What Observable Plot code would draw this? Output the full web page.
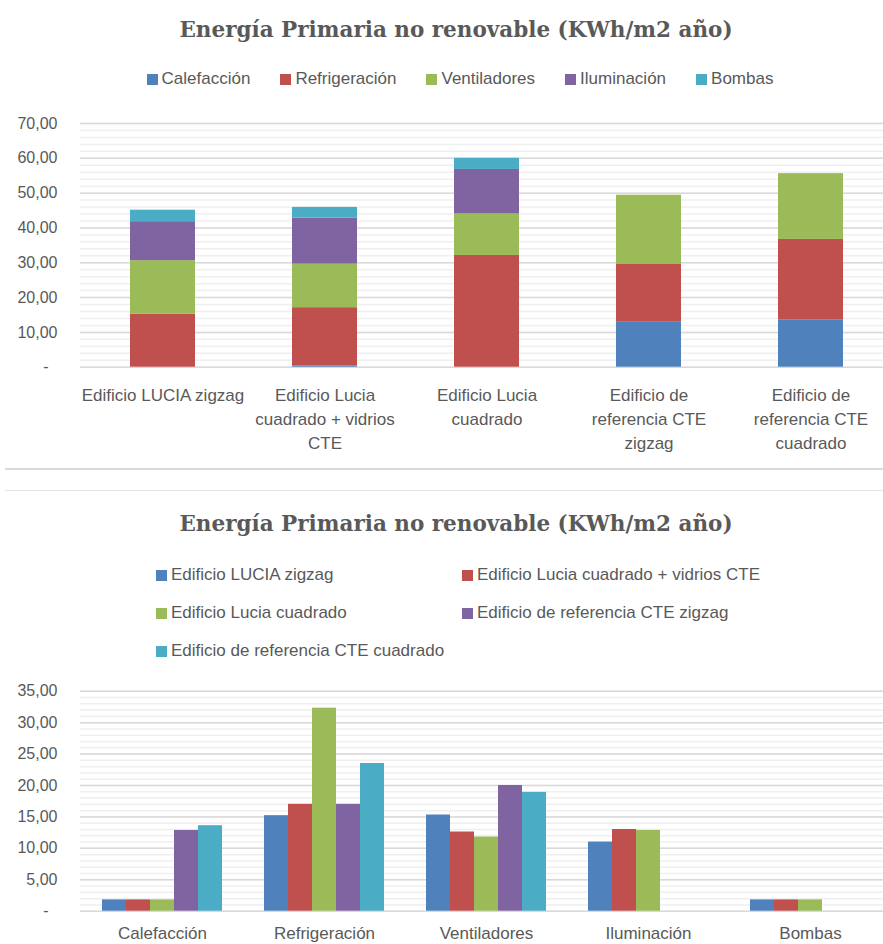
<!DOCTYPE html>
<html>
<head>
<meta charset="utf-8">
<script src="https://cdn.jsdelivr.net/npm/d3@7"></script>
<script src="https://cdn.jsdelivr.net/npm/@observablehq/plot@0.6"></script>
<style>
html, body { margin: 0; padding: 0; background: #fff; }
body { position: relative; width: 883px; height: 944px; overflow: hidden; font-family: "Liberation Sans", Arial, sans-serif; color: #595959; }
.abs { position: absolute; width: 893px; }
.title { position: absolute; left: 0; width: 912px; text-align: center; font-family: "DejaVu Serif", serif; font-weight: bold; font-size: 21.5px; line-height: 21.5px; color: #595959; white-space: nowrap; }
.legend-top { position: absolute; left: 0; width: 920px; top: 69.3px; display: flex; justify-content: center; gap: 30px; font-size: 17px; line-height: 20px; white-space: nowrap; }
.item { display: flex; align-items: center; }
.sw { width: 11px; height: 11px; margin-right: 4px; }
.legend-bot { position: absolute; left: 156px; top: 565px; display: grid; grid-template-columns: 306px 306px; row-gap: 18px; font-size: 17px; line-height: 20px; white-space: nowrap; }
.sep1 { position: absolute; left: 5px; width: 878px; top: 467.7px; height: 2.3px; background: #d9d9d9; }
.sep2 { position: absolute; left: 5px; width: 878px; top: 489.5px; height: 1.5px; background: #e4e4e4; }
svg { overflow: visible; max-width: none !important; display: block; }
</style>
</head>
<body>
<div class="title" id="t1" style="top:18.5px"></div>
<div class="legend-top" id="lg1"></div>
<div class="abs" id="c1" style="left:0;top:100px"></div>
<div class="sep1"></div>
<div class="sep2"></div>
<div class="title" id="t2" style="top:513.3px"></div>
<div class="legend-bot" id="lg2"></div>
<div class="abs" id="c2a" style="left:0;top:670px"></div>
<div class="abs" id="c2b" style="left:0;top:670px"></div>
<script>
// ---------- data ----------
const chartTitle = "Energía Primaria no renovable (KWh/m2 año)";
const buildings = [
  "Edificio LUCIA zigzag",
  "Edificio Lucia cuadrado + vidrios CTE",
  "Edificio Lucia cuadrado",
  "Edificio de referencia CTE zigzag",
  "Edificio de referencia CTE cuadrado"
];
const buildingLabels = [
  "Edificio LUCIA zigzag",
  "Edificio Lucia\ncuadrado + vidrios\nCTE",
  "Edificio Lucia\ncuadrado",
  "Edificio de\nreferencia CTE\nzigzag",
  "Edificio de\nreferencia CTE\ncuadrado"
];
const uses = ["Calefacción", "Refrigeración", "Ventiladores", "Iluminación", "Bombas"];
const colors = ["#4F81BD", "#C0504D", "#9BBB59", "#8064A2", "#4BACC6"];

// Top chart (stacked): one array per use, values per building
const stackCalefaccion   = [0.0, 0.4, 0.0, 12.9, 13.5];
const stackRefrigeracion = [15.2, 16.7, 32.1, 16.6, 23.2];
const stackVentiladores  = [15.4, 12.5, 11.9, 19.9, 18.9];
const stackIluminacion   = [11.2, 13.2, 12.8, 0.0, 0.0];
const stackBombas        = [3.3, 3.1, 3.2, 0.0, 0.0];
const stackSeries = [stackCalefaccion, stackRefrigeracion, stackVentiladores, stackIluminacion, stackBombas];

// Bottom chart (grouped): one array per building, values per use
const luciaZigzag        = [1.8, 15.2, 15.3, 11.0, 1.8];
const luciaCuadVidrios   = [1.8, 17.0, 12.6, 13.0, 1.8];
const luciaCuadrado      = [1.8, 32.3, 11.8, 12.85, 1.8];
const refZigzag          = [12.85, 17.0, 20.0, 0.0, 0.0];
const refCuadrado        = [13.6, 23.5, 18.9, 0.0, 0.0];
const groupSeries = [luciaZigzag, luciaCuadVidrios, luciaCuadrado, refZigzag, refCuadrado];

const topTicks = [0, 10, 20, 30, 40, 50, 60, 70];
const botTicks = [0, 5, 10, 15, 20, 25, 30, 35];

// ---------- helpers ----------
const fmt = d => d.toFixed(2).replace(".", ",");
const W = 893;
const baseStyle = {fontFamily: "'Liberation Sans', Arial, sans-serif", fontSize: "16px", color: "#595959", background: "transparent", overflow: "visible", maxWidth: "none"};

document.getElementById("t1").textContent = chartTitle;
document.getElementById("t2").textContent = chartTitle;

function swatchItem(name, color) {
  const it = document.createElement("div");
  it.className = "item";
  const sw = document.createElement("span");
  sw.className = "sw";
  sw.style.background = color;
  const tx = document.createElement("span");
  tx.textContent = name;
  it.append(sw, tx);
  return it;
}
const lg1 = document.getElementById("lg1");
uses.forEach((u, i) => lg1.append(swatchItem(u, colors[i])));
const lg2 = document.getElementById("lg2");
buildings.forEach((b, i) => lg2.append(swatchItem(b, colors[i])));

// ---------- top chart ----------
const topData = uses.flatMap((u, i) => buildings.map((b, j) => ({building: b, use: u, value: stackSeries[i][j]})));
const topPlot = Plot.plot({
  width: W, height: 360,
  marginLeft: 80, marginRight: 0, marginTop: 23, marginBottom: 93.3,
  style: baseStyle,
  x: {domain: buildings, paddingInner: 0.6, paddingOuter: 0.3, label: null},
  y: {domain: [0, 70], label: null},
  color: {domain: uses, range: colors},
  marks: [
    Plot.gridY(d3.range(0, 71, 2), {stroke: "#efefef", strokeOpacity: 1, strokeWidth: 1.5}),
    Plot.gridY(topTicks, {stroke: "#d9d9d9", strokeOpacity: 1, strokeWidth: 1.5}),
    Plot.barY(topData, {x: "building", y: "value", fill: "use"}),
    Plot.axisY(topTicks.filter(d => d > 0), {tickSize: 0, tickPadding: 23, tickFormat: fmt, label: null}),
    Plot.axisY([0], {tickSize: 0, tickPadding: 32, tickFormat: () => "-", label: null}),
    Plot.axisX({tickSize: 0, tickPadding: 16.5, fontSize: 17, lineHeight: 1.41, label: null,
      tickFormat: d => buildingLabels[buildings.indexOf(d)]})
  ]
});
document.getElementById("c1").append(topPlot);

// ---------- bottom chart ----------
const botData = buildings.flatMap((b, j) => uses.map((u, i) => ({use: u, building: b, value: groupSeries[j][i]})));
const dims = {width: W, height: 274, marginLeft: 80, marginRight: 0, marginTop: 20.7, marginBottom: 33.3};
const gridPlot = Plot.plot({
  ...dims,
  style: baseStyle,
  y: {domain: [0, 35], label: null},
  marks: [
    Plot.gridY(d3.range(0, 36, 1), {stroke: "#efefef", strokeOpacity: 1, strokeWidth: 1.5}),
    Plot.gridY(botTicks, {stroke: "#d9d9d9", strokeOpacity: 1, strokeWidth: 1.5}),
    Plot.axisY(botTicks.filter(d => d > 0), {tickSize: 0, tickPadding: 23, tickFormat: fmt, label: null}),
    Plot.axisY([0], {tickSize: 0, tickPadding: 32, tickFormat: () => "-", label: null})
  ]
});
document.getElementById("c2a").append(gridPlot);

const barPlot = Plot.plot({
  ...dims,
  style: baseStyle,
  fx: {domain: uses, paddingInner: 0.233, paddingOuter: 0.1165, label: null},
  x: {domain: buildings, padding: 0, axis: null},
  y: {domain: [0, 35], axis: null},
  color: {domain: buildings, range: colors},
  marks: [
    Plot.barY(botData, {fx: "use", x: "building", y: "value", fill: "building"}),
    Plot.axisFx({anchor: "bottom", tickSize: 0, tickPadding: 15.5, fontSize: 17, label: null})
  ]
});
document.getElementById("c2b").append(barPlot);
</script>
</body>
</html>
